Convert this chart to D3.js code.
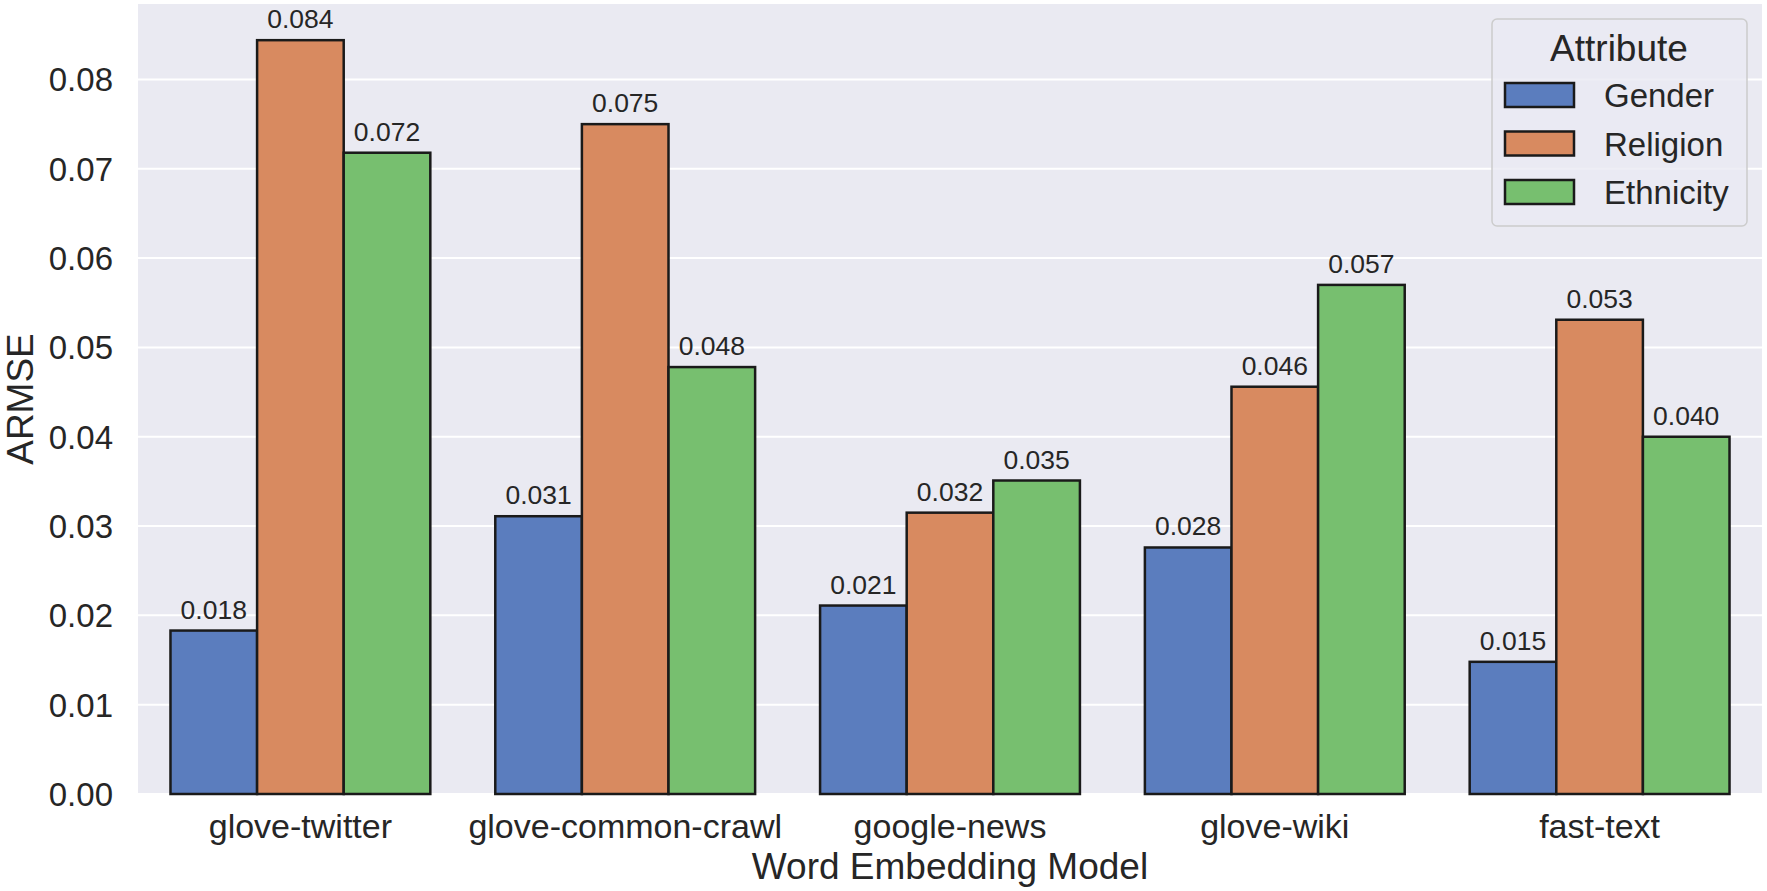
<!DOCTYPE html>
<html>
<head>
<meta charset="utf-8">
<script src="https://cdn.jsdelivr.net/npm/d3@7"></script>
<style>
  html, body { margin: 0; padding: 0; background: #fff; }
  svg text { font-family: "Liberation Sans", Arial, sans-serif; fill: #262626; }
</style>
</head>
<body>
<svg id="chart" width="1767" height="891"></svg>
<script>
// values
const models = ['glove-twitter', 'glove-common-crawl', 'google-news', 'glove-wiki', 'fast-text'];
const attributes = ['Gender', 'Religion', 'Ethnicity'];
const gender = [0.0183, 0.0311, 0.0211, 0.0276, 0.0148];
const religion = [0.0844, 0.0750, 0.0315, 0.0456, 0.0531];
const ethnicity = [0.0718, 0.0478, 0.0351, 0.0570, 0.0400];
const yTicks = [0, 0.01, 0.02, 0.03, 0.04, 0.05, 0.06, 0.07, 0.08];
const colors = ['#5b7dbe', '#d88a60', '#77bf6f'];

const series = [gender, religion, ethnicity];

const margin = { top: 4, right: 5, bottom: 97, left: 138 };
const width = 1767, height = 891;
const plotW = width - margin.left - margin.right;
const plotH = height - margin.top - margin.bottom;

const svg = d3.select('#chart');
const g = svg.append('g').attr('transform', `translate(${margin.left},${margin.top})`);

const x = d3.scaleBand().domain(models).range([0, plotW]).paddingInner(0.2).paddingOuter(0.1);
const xSub = d3.scaleBand().domain(attributes).range([0, x.bandwidth()]);
const yMax = d3.max(series.flat()) * 1.048;
const y = d3.scaleLinear().domain([0, yMax]).range([plotH, 0]);

// background + grid
g.append('rect').attr('width', plotW).attr('height', plotH).attr('fill', '#eaeaf2');
g.selectAll('line.grid')
  .data(yTicks)
  .enter()
  .append('line')
  .attr('class', 'grid')
  .attr('x1', 0).attr('x2', plotW)
  .attr('y1', d => y(d)).attr('y2', d => y(d))
  .attr('stroke', '#fff').attr('stroke-width', 2);

// y tick labels
g.selectAll('text.ytick')
  .data(yTicks)
  .enter()
  .append('text')
  .attr('class', 'ytick')
  .attr('x', -25)
  .attr('y', d => y(d))
  .attr('dy', '0.36em')
  .attr('text-anchor', 'end')
  .attr('font-size', 33)
  .text(d3.format('.2f'));

// x tick labels
g.selectAll('text.xtick')
  .data(models)
  .enter()
  .append('text')
  .attr('class', 'xtick')
  .attr('x', d => x(d) + x.bandwidth() / 2)
  .attr('y', plotH + 44)
  .attr('text-anchor', 'middle')
  .attr('font-size', 34)
  .text(d => d);

// bars
const bars = [];
models.forEach((m, i) => {
  attributes.forEach((a, j) => {
    bars.push({ model: m, attr: a, value: series[j][i], color: colors[j] });
  });
});

g.selectAll('rect.bar')
  .data(bars)
  .enter()
  .append('rect')
  .attr('class', 'bar')
  .attr('x', d => x(d.model) + xSub(d.attr))
  .attr('y', d => y(d.value))
  .attr('width', xSub.bandwidth())
  .attr('height', d => plotH - y(d.value))
  .attr('fill', d => d.color)
  .attr('stroke', '#1a1a1a')
  .attr('stroke-width', 2.5);

g.selectAll('text.val')
  .data(bars)
  .enter()
  .append('text')
  .attr('class', 'val')
  .attr('x', d => x(d.model) + xSub(d.attr) + xSub.bandwidth() / 2)
  .attr('y', d => y(d.value) - 12)
  .attr('text-anchor', 'middle')
  .attr('font-size', 26.5)
  .text(d => d3.format('.3f')(d.value));

// axis titles
svg.append('text')
  .attr('x', margin.left + plotW / 2)
  .attr('y', 879)
  .attr('text-anchor', 'middle')
  .attr('font-size', 37)
  .text('Word Embedding Model');

svg.append('text')
  .attr('transform', `translate(33,${margin.top + plotH / 2}) rotate(-90)`)
  .attr('text-anchor', 'middle')
  .attr('font-size', 37)
  .text('ARMSE');

// legend
const legend = svg.append('g').attr('transform', 'translate(1492,19)');
legend.append('rect')
  .attr('width', 255).attr('height', 207)
  .attr('rx', 5)
  .attr('fill', '#eaeaf2').attr('fill-opacity', 0.8)
  .attr('stroke', '#cccccc').attr('stroke-width', 1.5);
legend.append('text')
  .attr('x', 127).attr('y', 42)
  .attr('text-anchor', 'middle')
  .attr('font-size', 37)
  .text('Attribute');
const items = legend.selectAll('g.item')
  .data(attributes)
  .enter()
  .append('g')
  .attr('class', 'item')
  .attr('transform', (d, i) => `translate(13,${64 + i * 48.5})`);
items.append('rect')
  .attr('width', 69).attr('height', 24)
  .attr('fill', (d, i) => colors[i])
  .attr('stroke', '#1a1a1a').attr('stroke-width', 2.5);
items.append('text')
  .attr('x', 99).attr('y', 24)
  .attr('font-size', 33)
  .text(d => d);
</script>
</body>
</html>
